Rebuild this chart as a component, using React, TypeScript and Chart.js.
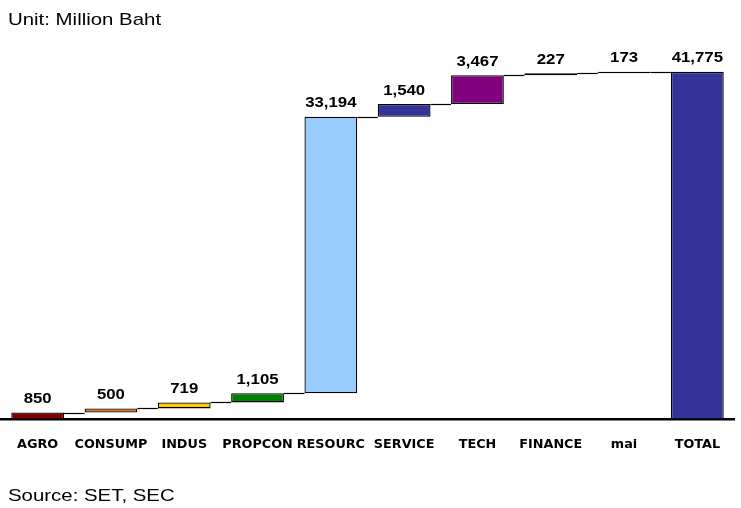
import React, { useEffect, useRef } from "react";
import { Chart, registerables } from "chart.js";

Chart.register(...registerables);

const categories = ["AGRO", "CONSUMP", "INDUS", "PROPCON", "RESOURC", "SERVICE", "TECH", "FINANCE", "mai", "TOTAL"];
const values = [850, 500, 719, 1105, 33194, 1540, 3467, 227, 173, 41775];
const valueLabels = ["850", "500", "719", "1,105", "33,194", "1,540", "3,467", "227", "173", "41,775"];
const barColors = ["#800000", "#E8731A", "#FFCC00", "#008000", "#99CCFF", "#333399", "#800080", "#1a1a33", "#1a1a1a", "#333399"];
const yMax = 45000;

function buildRanges(): [number, number][] {
  const out: [number, number][] = [];
  let cum = 0;
  values.forEach((v, i) => {
    if (i === values.length - 1) {
      out.push([0, v]);
    } else {
      out.push([cum, cum + v]);
      cum += v;
    }
  });
  return out;
}

const waterfallPlugin = {
  id: "waterfallExtras",
  afterDatasetsDraw(chart: any) {
    const ctx = chart.ctx;
    const meta = chart.getDatasetMeta(0);
    const yScale = chart.scales.y;
    const ranges = buildRanges();
    ctx.save();
    // connectors
    ctx.strokeStyle = "#000";
    ctx.lineWidth = 1.2;
    for (let i = 0; i < meta.data.length - 1; i++) {
      const a = meta.data[i];
      const b = meta.data[i + 1];
      const y = Math.round(yScale.getPixelForValue(ranges[i][1])) + 0.5;
      ctx.beginPath();
      ctx.moveTo(a.x + a.width / 2, y);
      ctx.lineTo(b.x - b.width / 2, y);
      ctx.stroke();
    }
    // value labels (horizontally stretched like the reference)
    ctx.fillStyle = "#000";
    ctx.font = "bold 14px 'Liberation Sans', Arial, sans-serif";
    ctx.textAlign = "center";
    ctx.textBaseline = "alphabetic";
    meta.data.forEach((el: any, i: number) => {
      const top = yScale.getPixelForValue(ranges[i][1]);
      ctx.save();
      ctx.translate(el.x, top - 9.5);
      ctx.scale(1.2, 1);
      ctx.fillText(valueLabels[i], 0, 0);
      ctx.restore();
    });
    ctx.restore();
  },
};

export default function App() {
  const canvasRef = useRef<HTMLCanvasElement | null>(null);

  useEffect(() => {
    if (!canvasRef.current) return;
    const chart = new Chart(canvasRef.current, {
      type: "bar",
      data: {
        labels: categories,
        datasets: [
          {
            data: buildRanges() as any,
            backgroundColor: barColors,
            borderColor: "#000",
            borderWidth: 1.3,
            borderSkipped: false,
            barPercentage: 0.72,
            categoryPercentage: 1,
          },
        ],
      },
      options: {
        animation: false,
        responsive: false,
        maintainAspectRatio: false,
        layout: { padding: { top: 45, left: 1, right: 7, bottom: 39 } },
        plugins: { legend: { display: false }, tooltip: { enabled: false } },
        scales: {
          x: {
            grid: { display: false, drawTicks: false },
            border: { display: true, color: "#000", width: 2.5 },
            ticks: {
              color: "#000",
              padding: 17,
              maxRotation: 0,
              autoSkip: false,
              font: { family: "'DejaVu Sans', sans-serif", size: 12.8, weight: "bold" },
            },
          },
          y: {
            display: false,
            min: 0,
            max: yMax,
          },
        },
      },
      plugins: [waterfallPlugin],
    });
    return () => chart.destroy();
  }, []);

  const textStyle: React.CSSProperties = {
    position: "absolute",
    left: 8,
    fontFamily: "'Liberation Sans', Arial, sans-serif",
    fontSize: 17,
    lineHeight: "20px",
    color: "#000",
    whiteSpace: "nowrap",
    transform: "scaleX(1.2)",
    transformOrigin: "left center",
  };

  return (
    <div style={{ position: "absolute", left: 0, top: 0, width: 741, height: 508, background: "#fff" }}>
      <canvas ref={canvasRef} width={741} height={508} style={{ position: "absolute", left: 0, top: 0, width: 741, height: 508 }} />
      <div style={{ ...textStyle, top: 10 }}>Unit: Million Baht</div>
      <div style={{ ...textStyle, top: 486 }}>Source: SET, SEC</div>
    </div>
  );
}
